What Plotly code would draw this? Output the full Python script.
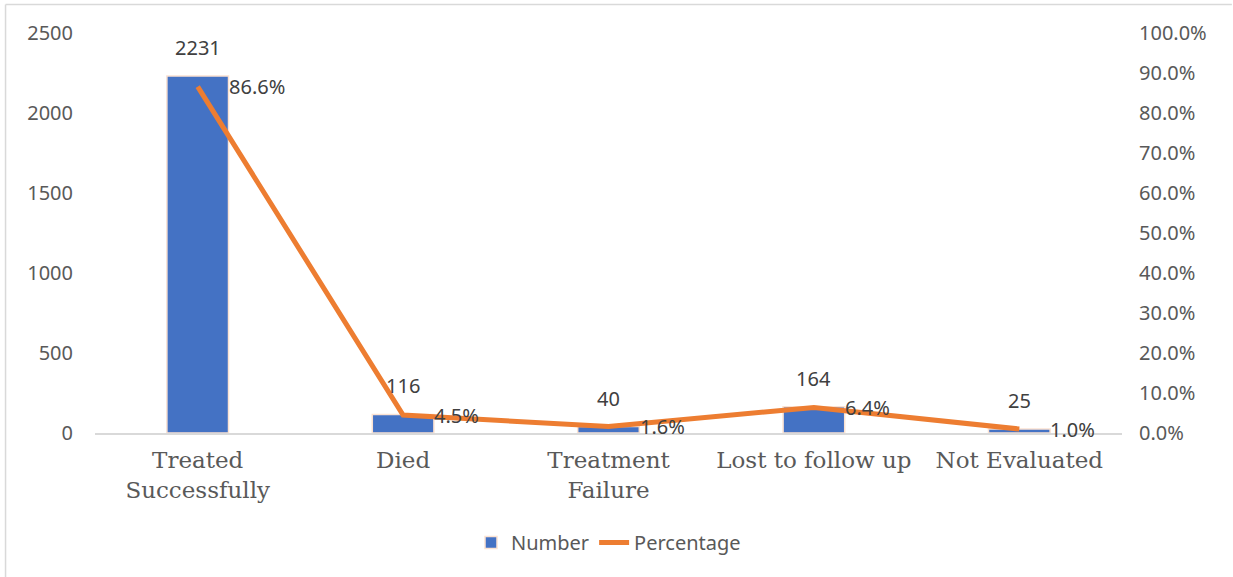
import plotly.graph_objects as go

categories = ["Treated<br>Successfully", "Died", "Treatment<br>Failure", "Lost to follow up", "Not Evaluated"]
numbers = [2231, 116, 40, 164, 25]
percentages = [0.866, 0.045, 0.016, 0.064, 0.010]
pct_labels = ["86.6%", "4.5%", "1.6%", "6.4%", "1.0%"]

tick_font = dict(family="Noto Sans, Open Sans, sans-serif", size=20, color="#595959")
label_font = dict(family="Noto Sans, Open Sans, sans-serif", size=20, color="#404040")

fig = go.Figure()
fig.add_trace(go.Bar(
    x=categories, y=numbers, name="Number",
    marker=dict(color="#4472C4", line=dict(color="#FBE2D2", width=1.5)),
    width=0.3,
))
fig.add_trace(go.Scatter(
    x=categories, y=percentages, name="Percentage", yaxis="y2",
    mode="lines", line=dict(color="#ED7D31", width=5),
))
for c, n in zip(categories, numbers):
    fig.add_annotation(x=c, y=n, xref="x", yref="y", text=str(n), showarrow=False,
                       xanchor="center", yanchor="bottom", yshift=13, font=label_font)
for c, p, t in zip(categories, percentages, pct_labels):
    fig.add_annotation(x=c, y=p, xref="x", yref="y2", text=t, showarrow=False,
                       xanchor="left", yanchor="middle", xshift=29, font=label_font)

fig.update_layout(
    width=1233, height=577,
    margin=dict(l=95, r=111, t=33, b=144),
    paper_bgcolor="white", plot_bgcolor="white",
    showlegend=True,
    legend=dict(orientation="h", x=0.5, xanchor="center", y=-0.225, yanchor="top",
                font=tick_font),
    xaxis=dict(showline=True, linecolor="#D9D9D9", linewidth=2, ticks="",
               tickfont=dict(family="DejaVu Serif, serif", size=23, color="#595959"),
               showgrid=False, ticklabelstandoff=5),
    yaxis=dict(range=[0, 2500], dtick=500, showgrid=False, zeroline=False,
               tickfont=tick_font, ticklabelstandoff=21),
    yaxis2=dict(range=[0, 1], dtick=0.1, tickformat=".1%", overlaying="y", side="right",
                showgrid=False, zeroline=False, tickfont=tick_font, ticklabelstandoff=16),
    shapes=[
        dict(type="line", xref="paper", yref="paper", x0=-0.0871, x1=1.107, y0=1.071, y1=1.071,
             line=dict(color="#D9D9D9", width=1.5)),
        dict(type="line", xref="paper", yref="paper", x0=-0.0871, x1=-0.0871, y0=1.071, y1=-0.37,
             line=dict(color="#D9D9D9", width=1.5)),
    ],
)

fig.write_html("out.html")
